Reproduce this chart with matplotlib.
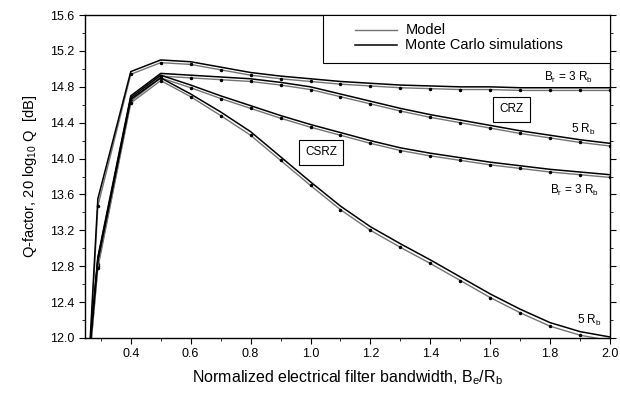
import matplotlib
matplotlib.use("Agg")
import matplotlib.pyplot as plt
from matplotlib.patches import Rectangle
from matplotlib.ticker import MultipleLocator, FormatStrFormatter

plt.rcParams['font.family'] = ['Liberation Sans', 'DejaVu Sans']

# normalized electrical bandwidth Be/Rb
bw = [0.25, 0.29, 0.4, 0.5, 0.6, 0.7, 0.8, 0.9, 1.0, 1.1, 1.2, 1.3, 1.4,
      1.5, 1.6, 1.7, 1.8, 1.9, 2.0]

# Q-factor [dB], Monte Carlo simulations
crz_3rb_mc = [11.1, 13.55, 14.97, 15.10, 15.08, 15.02, 14.96, 14.92, 14.89, 14.86,
              14.84, 14.82, 14.81, 14.80, 14.80, 14.79, 14.79, 14.79, 14.79]
crz_5rb_mc = [11.4, 12.90, 14.70, 14.95, 14.93, 14.91, 14.89, 14.85, 14.80, 14.72,
              14.64, 14.56, 14.49, 14.43, 14.37, 14.31, 14.26, 14.21, 14.17]
csrz_3rb_mc = [11.4, 12.88, 14.68, 14.93, 14.82, 14.70, 14.59, 14.48, 14.38, 14.29,
               14.20, 14.12, 14.06, 14.01, 13.96, 13.92, 13.88, 13.85, 13.82]
csrz_5rb_mc = [11.4, 12.86, 14.66, 14.90, 14.72, 14.52, 14.30, 14.02, 13.74, 13.47,
               13.24, 13.05, 12.87, 12.68, 12.49, 12.32, 12.17, 12.07, 12.01]

# Q-factor [dB], model
crz_3rb_model = [11.0, 13.47, 14.94, 15.07, 15.05, 14.99, 14.93, 14.89, 14.86, 14.83,
                 14.81, 14.79, 14.78, 14.77, 14.77, 14.76, 14.76, 14.76, 14.76]
crz_5rb_model = [11.3, 12.82, 14.66, 14.92, 14.90, 14.88, 14.86, 14.82, 14.77, 14.69,
                 14.61, 14.53, 14.46, 14.40, 14.34, 14.28, 14.23, 14.18, 14.14]
csrz_3rb_model = [11.3, 12.80, 14.64, 14.90, 14.79, 14.67, 14.56, 14.45, 14.35, 14.26,
                  14.17, 14.09, 14.03, 13.98, 13.93, 13.89, 13.85, 13.82, 13.79]
csrz_5rb_model = [11.3, 12.78, 14.62, 14.87, 14.69, 14.48, 14.26, 13.98, 13.70, 13.43,
                  13.20, 13.01, 12.83, 12.64, 12.45, 12.28, 12.13, 12.03, 11.97]

x_ticks = [0.4, 0.6, 0.8, 1.0, 1.2, 1.4, 1.6, 1.8, 2.0]
y_ticks = [12.0, 12.4, 12.8, 13.2, 13.6, 14.0, 14.4, 14.8, 15.2, 15.6]

fig = plt.figure(figsize=(6.2, 3.98), dpi=100)
ax = fig.add_axes([0.137, 0.151, 0.847, 0.811])

for m in [crz_3rb_model, crz_5rb_model, csrz_3rb_model, csrz_5rb_model]:
    ax.plot(bw, m, color='0.45', lw=1.0, marker='.', ms=3, mfc='black', mec='black')
for s in [crz_3rb_mc, crz_5rb_mc, csrz_3rb_mc, csrz_5rb_mc]:
    ax.plot(bw, s, color='black', lw=1.1)

ax.set_xlim(0.247, 2.0)
ax.set_ylim(12.0, 15.6)
ax.set_xticks(x_ticks)
ax.set_yticks(y_ticks)
ax.xaxis.set_minor_locator(MultipleLocator(0.1))
ax.yaxis.set_minor_locator(MultipleLocator(0.2))
ax.xaxis.set_major_formatter(FormatStrFormatter('%.1f'))
ax.yaxis.set_major_formatter(FormatStrFormatter('%.1f'))
ax.tick_params(which='both', direction='out', right=True, labelsize=9)
ax.tick_params(which='major', length=4)
ax.tick_params(which='minor', length=2)
for sp in ax.spines.values():
    sp.set_linewidth(1.0)

ax.set_xlabel('Normalized electrical filter bandwidth, B$_\\mathregular{e}$/R$_\\mathregular{b}$',
              fontsize=11.5, labelpad=6)
ax.set_ylabel('Q-factor, 20 log$_\\mathregular{10}$ Q  [dB]', fontsize=10.5, labelpad=8)

# labels on the curves
br3 = 'B$_\\mathregular{r}$ = 3 R$_\\mathregular{b}$'
rb5 = '5 R$_\\mathregular{b}$'
ax.text(1.86, 14.90, br3, fontsize=8.5, ha='center', va='center')
ax.text(1.67, 14.55, 'CRZ', fontsize=8.5, ha='center', va='center',
        bbox=dict(boxstyle='square,pad=0.55', fc='white', ec='black', lw=0.8))
ax.text(1.91, 14.32, rb5, fontsize=8.5, ha='center', va='center')
ax.text(1.035, 14.07, 'CSRZ', fontsize=8.5, ha='center', va='center',
        bbox=dict(boxstyle='square,pad=0.55', fc='white', ec='black', lw=0.8))
ax.text(1.88, 13.64, br3, fontsize=8.5, ha='center', va='center')
ax.text(1.93, 12.20, rb5, fontsize=8.5, ha='center', va='center')

# legend box drawn by hand (wide box, as in the original)
ax.add_patch(Rectangle((0.453, 0.852), 0.547, 0.148, transform=ax.transAxes,
                       fc='white', ec='black', lw=0.8, zorder=5))
ax.plot([0.514, 0.594], [0.954, 0.954], color='0.45', lw=1.0,
        transform=ax.transAxes, zorder=6)
ax.plot([0.514, 0.594], [0.907, 0.907], color='black', lw=1.1,
        transform=ax.transAxes, zorder=6)
ax.text(0.610, 0.954, 'Model', fontsize=10.5, va='center', transform=ax.transAxes, zorder=6)
ax.text(0.610, 0.907, 'Monte Carlo simulations', fontsize=10.5, va='center',
        transform=ax.transAxes, zorder=6)

fig.savefig('out.png', dpi=100, facecolor='white')
